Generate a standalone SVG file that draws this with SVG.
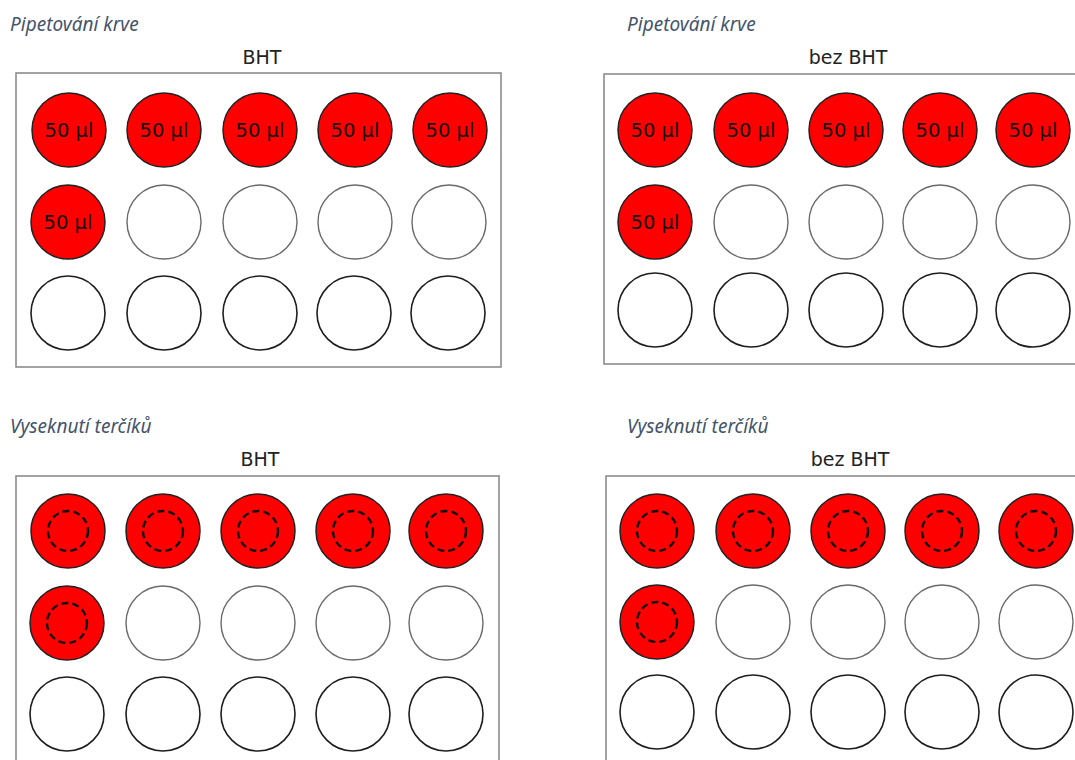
<svg xmlns="http://www.w3.org/2000/svg" width="1075" height="760" viewBox="0 0 1075 760">
<style>
.bg{fill:#fff}
.plate{fill:#fff;stroke:#8c8c8c;stroke-width:1.6}
.ttl{font-family:"Noto Sans","Open Sans",sans-serif;font-style:italic;font-size:19px;fill:#44546A}
.hdr{font-family:"DejaVu Sans",sans-serif;font-size:19px;fill:#222;text-anchor:middle}
.red{fill:#ff0000;stroke:#222;stroke-width:1.5}
.w2{fill:#fff;stroke:#6a6a6a;stroke-width:1.4}
.w3{fill:#fff;stroke:#1e1e1e;stroke-width:1.6}
.dash{fill:none;stroke:#111;stroke-width:2.4;stroke-dasharray:7 4}
.lbl{font-family:"DejaVu Sans",sans-serif;font-size:19.5px;fill:#111;text-anchor:middle}
</style>
<rect class="bg" x="0" y="0" width="1075" height="760"/>

<g id="panel-tl">
<text class="ttl" x="10" y="31">Pipetování krve</text>
<text class="hdr" x="262" y="64">BHT</text>
<rect class="plate" x="16" y="73" width="485" height="294"/>
<g id="tl-r1">
<circle class="red" cx="69" cy="130" r="37"/><text class="lbl" x="69" y="137">50 µl</text>
<circle class="red" cx="164" cy="130" r="37"/><text class="lbl" x="164" y="137">50 µl</text>
<circle class="red" cx="260" cy="130" r="37"/><text class="lbl" x="260" y="137">50 µl</text>
<circle class="red" cx="355" cy="130" r="37"/><text class="lbl" x="355" y="137">50 µl</text>
<circle class="red" cx="450" cy="130" r="37"/><text class="lbl" x="450" y="137">50 µl</text>
</g>
<g id="tl-r2">
<circle class="red" cx="68" cy="222" r="37"/><text class="lbl" x="68" y="229">50 µl</text>
<circle class="w2" cx="164" cy="222" r="37"/>
<circle class="w2" cx="260" cy="222" r="37"/>
<circle class="w2" cx="355" cy="222" r="37"/>
<circle class="w2" cx="449" cy="222" r="37"/>
</g>
<g id="tl-r3">
<circle class="w3" cx="68" cy="313" r="37"/>
<circle class="w3" cx="164" cy="313" r="37"/>
<circle class="w3" cx="260" cy="313" r="37"/>
<circle class="w3" cx="354" cy="313" r="37"/>
<circle class="w3" cx="448" cy="313" r="37"/>
</g>
</g>

<g id="panel-tr">
<text class="ttl" x="627" y="31">Pipetování krve</text>
<text class="hdr" x="848" y="64">bez BHT</text>
<rect class="plate" x="604" y="74" width="480" height="290"/>
<g id="tr-r1">
<circle class="red" cx="655" cy="130" r="37"/><text class="lbl" x="655" y="137">50 µl</text>
<circle class="red" cx="751" cy="130" r="37"/><text class="lbl" x="751" y="137">50 µl</text>
<circle class="red" cx="846" cy="130" r="37"/><text class="lbl" x="846" y="137">50 µl</text>
<circle class="red" cx="940" cy="130" r="37"/><text class="lbl" x="940" y="137">50 µl</text>
<circle class="red" cx="1033" cy="130" r="37"/><text class="lbl" x="1033" y="137">50 µl</text>
</g>
<g id="tr-r2">
<circle class="red" cx="655" cy="222" r="37"/><text class="lbl" x="655" y="229">50 µl</text>
<circle class="w2" cx="751" cy="222" r="37"/>
<circle class="w2" cx="846" cy="222" r="37"/>
<circle class="w2" cx="940" cy="222" r="37"/>
<circle class="w2" cx="1033" cy="222" r="37"/>
</g>
<g id="tr-r3">
<circle class="w3" cx="655" cy="310" r="37"/>
<circle class="w3" cx="751" cy="310" r="37"/>
<circle class="w3" cx="846" cy="310" r="37"/>
<circle class="w3" cx="940" cy="310" r="37"/>
<circle class="w3" cx="1033" cy="310" r="37"/>
</g>
</g>

<g id="panel-bl">
<text class="ttl" x="10" y="433">Vyseknutí terčíků</text>
<text class="hdr" x="260" y="466">BHT</text>
<rect class="plate" x="16" y="476" width="483" height="300"/>
<g id="bl-r1">
<circle class="red" cx="68" cy="531" r="37"/><circle class="dash" cx="68" cy="531" r="20"/>
<circle class="red" cx="163" cy="531" r="37"/><circle class="dash" cx="163" cy="531" r="20"/>
<circle class="red" cx="258" cy="531" r="37"/><circle class="dash" cx="258" cy="531" r="20"/>
<circle class="red" cx="353" cy="531" r="37"/><circle class="dash" cx="353" cy="531" r="20"/>
<circle class="red" cx="446" cy="531" r="37"/><circle class="dash" cx="446" cy="531" r="20"/>
</g>
<g id="bl-r2">
<circle class="red" cx="67" cy="623" r="37"/><circle class="dash" cx="67" cy="623" r="20"/>
<circle class="w2" cx="163" cy="623" r="37"/>
<circle class="w2" cx="258" cy="623" r="37"/>
<circle class="w2" cx="353" cy="623" r="37"/>
<circle class="w2" cx="446" cy="623" r="37"/>
</g>
<g id="bl-r3">
<circle class="w3" cx="67" cy="714" r="37"/>
<circle class="w3" cx="163" cy="714" r="37"/>
<circle class="w3" cx="258" cy="714" r="37"/>
<circle class="w3" cx="353" cy="714" r="37"/>
<circle class="w3" cx="446" cy="714" r="37"/>
</g>
</g>

<g id="panel-br">
<text class="ttl" x="627" y="433">Vyseknutí terčíků</text>
<text class="hdr" x="850" y="466">bez BHT</text>
<rect class="plate" x="606" y="476" width="480" height="300"/>
<g id="br-r1">
<circle class="red" cx="657" cy="531" r="37"/><circle class="dash" cx="657" cy="531" r="20"/>
<circle class="red" cx="753" cy="531" r="37"/><circle class="dash" cx="753" cy="531" r="20"/>
<circle class="red" cx="848" cy="531" r="37"/><circle class="dash" cx="848" cy="531" r="20"/>
<circle class="red" cx="942" cy="531" r="37"/><circle class="dash" cx="942" cy="531" r="20"/>
<circle class="red" cx="1036" cy="531" r="37"/><circle class="dash" cx="1036" cy="531" r="20"/>
</g>
<g id="br-r2">
<circle class="red" cx="657" cy="622" r="37"/><circle class="dash" cx="657" cy="622" r="20"/>
<circle class="w2" cx="753" cy="622" r="37"/>
<circle class="w2" cx="848" cy="622" r="37"/>
<circle class="w2" cx="942" cy="622" r="37"/>
<circle class="w2" cx="1036" cy="622" r="37"/>
</g>
<g id="br-r3">
<circle class="w3" cx="657" cy="712" r="37"/>
<circle class="w3" cx="753" cy="712" r="37"/>
<circle class="w3" cx="848" cy="712" r="37"/>
<circle class="w3" cx="942" cy="712" r="37"/>
<circle class="w3" cx="1036" cy="712" r="37"/>
</g>
</g>
</svg>
